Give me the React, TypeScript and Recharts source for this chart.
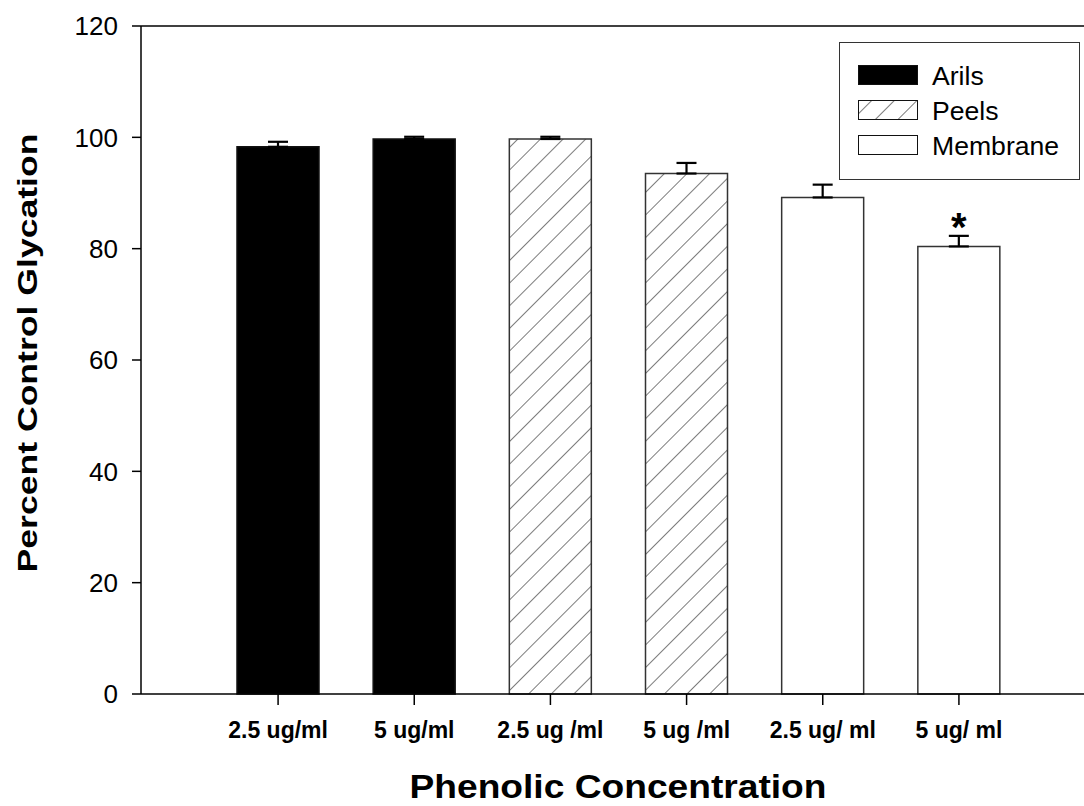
import { BarChart, Bar, XAxis, YAxis, Cell, ErrorBar, LabelList, Legend, ReferenceLine, Label } from "recharts";

const categories = ["2.5 ug/ml", "5 ug/ml", "2.5 ug /ml", "5 ug /ml", "2.5 ug/ ml", "5 ug/ ml"];
const groups = ["Arils", "Arils", "Peels", "Peels", "Membrane", "Membrane"];
const values = [98.3, 99.7, 99.7, 93.5, 89.2, 80.4];
const errors = [0.9, 0.4, 0.4, 1.9, 2.3, 1.9];
const marks = ["", "", "", "", "", "*"];
const legendNames = ["Arils", "Peels", "Membrane"];
const yTicks = [0, 20, 40, 60, 80, 100, 120];

const FONT = "'Liberation Sans', Arial, sans-serif";

const fills = { Arils: "#000000", Peels: "url(#hatch)", Membrane: "#ffffff" };

const data = categories.map((c, i) => ({
  name: c,
  group: groups[i],
  value: values[i],
  err: [0, errors[i]],
  mark: marks[i],
}));

function HatchPattern({ id }) {
  return (
    <pattern id={id} patternUnits="userSpaceOnUse" width="16" height="16" patternTransform="rotate(45)">
      <rect width="16" height="16" fill="#ffffff" />
      <line x1="0" y1="0" x2="0" y2="16" stroke="#444" strokeWidth="1.4" />
    </pattern>
  );
}

function LegendBox() {
  const rows = [23, 58, 93];
  return (
    <svg width={241} height={138} style={{ display: "block" }}>
      <defs>
        <HatchPattern id="hatchLegend" />
      </defs>
      <rect x={0.5} y={0.5} width={240} height={137} fill="#fff" stroke="#333" strokeWidth={1} />
      {legendNames.map((n, i) => (
        <g key={n}>
          <rect
            x={19.5}
            y={rows[i] + 0.5}
            width={59}
            height={19}
            fill={n === "Peels" ? "url(#hatchLegend)" : fills[n]}
            stroke="#111"
            strokeWidth={1}
          />
          <text x={93} y={rows[i] + 20} fontFamily={FONT} fontSize={26.6} fill="#000">
            {n}
          </text>
        </g>
      ))}
    </svg>
  );
}

function Star(props) {
  const { x, y, width, value } = props;
  if (!value) return null;
  return (
    <text x={x + width / 2} y={y - 5} textAnchor="middle" fontFamily={FONT} fontWeight="bold" fontSize={40} fill="#000">
      {value}
    </text>
  );
}

export default function App() {
  return (
    <div style={{ position: "absolute", left: 0, top: 0, background: "#fff" }}>
      <BarChart width={1084} height={806} data={data} margin={{ top: 26, right: 0, left: 0, bottom: 0 }}>
        <defs>
          <HatchPattern id="hatch" />
        </defs>
        <XAxis
          dataKey="name"
          height={112}
          padding={{ left: 69, right: 57 }}
          axisLine={{ stroke: "#000", strokeWidth: 1.5 }}
          tickLine={{ stroke: "#000", strokeWidth: 1.5 }}
          tickSize={11}
          tickMargin={17}
          tick={{ fontFamily: FONT, fontWeight: "bold", fontSize: 23, fill: "#000" }}
          interval={0}
        >
          <Label
            content={() => (
              <text
                x={618}
                y={798}
                textAnchor="middle"
                fontFamily={FONT}
                fontWeight="bold"
                fontSize={34}
                textLength={417}
                lengthAdjust="spacingAndGlyphs"
                fill="#000"
              >
                Phenolic Concentration
              </text>
            )}
          />
        </XAxis>
        <YAxis
          width={141}
          domain={[0, 120]}
          ticks={yTicks}
          axisLine={{ stroke: "#000", strokeWidth: 1.5 }}
          tickLine={{ stroke: "#000", strokeWidth: 1.5 }}
          tickSize={9}
          tickMargin={14}
          tick={{ fontFamily: FONT, fontSize: 26, fill: "#000" }}
        >
          <Label
            content={() => (
              <text
                x={37}
                y={353}
                transform="rotate(-90 37 353)"
                textAnchor="middle"
                fontFamily={FONT}
                fontWeight="bold"
                fontSize={28}
                textLength={439}
                lengthAdjust="spacingAndGlyphs"
                fill="#000"
              >
                Percent Control Glycation
              </text>
            )}
          />
        </YAxis>
        <ReferenceLine y={120} stroke="#000" strokeWidth={1.5} ifOverflow="visible" />
        <Legend
          layout="vertical"
          align="center"
          verticalAlign="middle"
          wrapperStyle={{ left: 839, top: 42, width: 241, height: 138 }}
          content={() => <LegendBox />}
        />
        <Bar dataKey="value" barSize={82} isAnimationActive={false} strokeWidth={1.5}>
          {data.map((d) => (
            <Cell key={d.name} fill={fills[d.group]} stroke={d.group === "Arils" ? "#111" : "#333"} />
          ))}
          <ErrorBar dataKey="err" direction="y" width={10} stroke="#000" strokeWidth={2.2} />
          <LabelList dataKey="mark" content={Star} />
        </Bar>
      </BarChart>
    </div>
  );
}
